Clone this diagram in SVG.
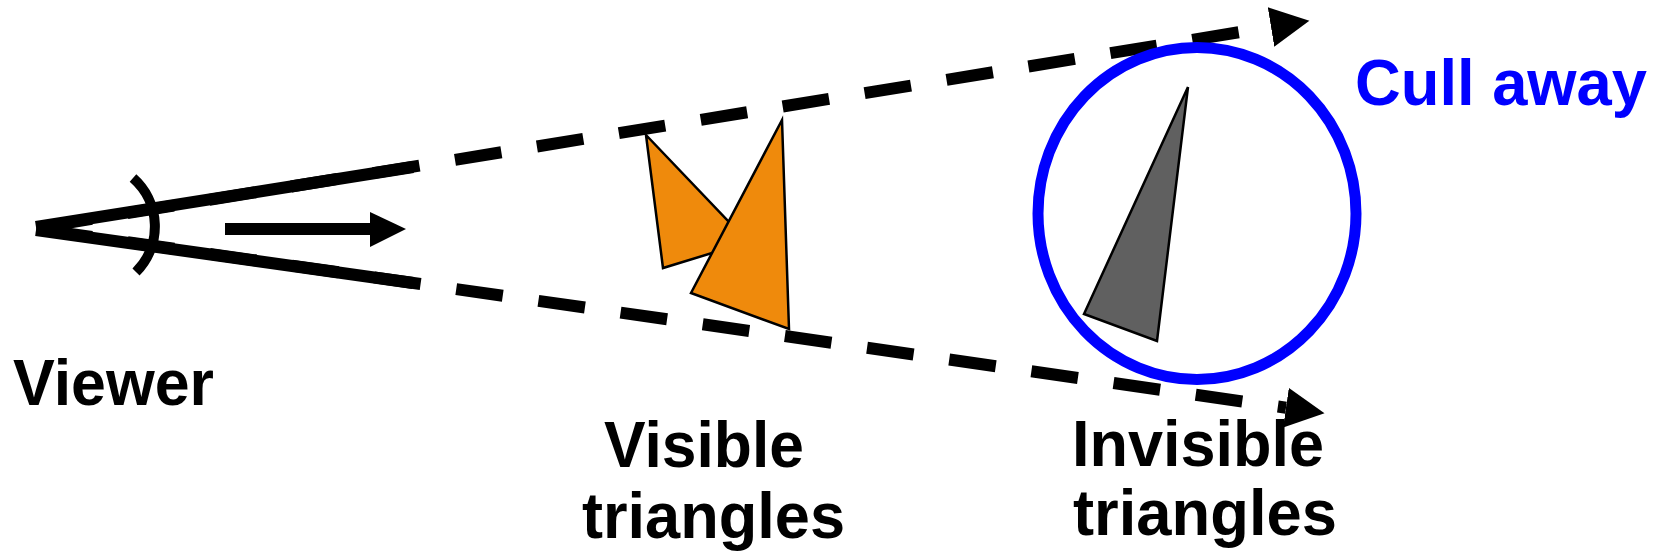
<svg xmlns="http://www.w3.org/2000/svg" width="1662" height="555" viewBox="0 0 1662 555">
  <style>
    .ray { fill: none; stroke: #000; stroke-width: 12; }
    .dash { stroke-dasharray: 47 36; stroke-dashoffset: -9.5; }
    .lbl { font-family: "Liberation Sans", Arial, sans-serif; font-weight: bold; font-size: 64px; fill: #000; }
    .tri { stroke: #000; stroke-width: 2.5; stroke-linejoin: miter; }
    .vis { fill: #ef8a0c; }
    .inv { fill: #606060; }
  </style>
  <defs>
    <marker id="head" markerUnits="userSpaceOnUse" markerWidth="40" markerHeight="40" refX="0" refY="18" orient="auto" viewBox="0 0 36 36">
      <path d="M0,0 L35,18 L0,36 Z" fill="#000"/>
    </marker>
  </defs>
  <rect width="1662" height="555" fill="#fff"/>

  <g id="connectors">
    <line class="ray" x1="36" y1="227" x2="413" y2="167"/>
    <line class="ray" x1="36" y1="230" x2="413" y2="283"/>
    <line class="ray dash" x1="36" y1="228" x2="1271" y2="27" marker-end="url(#head)"/>
    <line class="ray dash" x1="36" y1="229" x2="1286" y2="407.7" marker-end="url(#head)"/>
  </g>

  <g id="viewer">
    <path d="M133,178 A64.5,64.5 0 0 1 136,272" fill="none" stroke="#000" stroke-width="10"/>
    <line x1="225" y1="229" x2="371" y2="229" stroke="#000" stroke-width="12"/>
    <polygon points="370,212 406,229 370,247" fill="#000"/>
    <text class="lbl" x="13" y="405" font-size="66" textLength="201" lengthAdjust="spacingAndGlyphs">Viewer</text>
  </g>

  <g id="visible-triangles">
    <polygon class="tri vis" points="646,135 663,268 748,242"/>
    <polygon class="tri vis" points="782,120 691,293 789,329"/>
    <text class="lbl" x="604" y="467" font-size="66" textLength="200" lengthAdjust="spacingAndGlyphs">Visible</text>
    <text class="lbl" x="582" y="538" font-size="66" textLength="263" lengthAdjust="spacingAndGlyphs">triangles</text>
  </g>

  <g id="cull">
    <ellipse cx="1197" cy="213.5" rx="159" ry="166" fill="none" stroke="#0000ff" stroke-width="11"/>
    <polygon class="tri inv" points="1188,87 1084,314 1157,341"/>
    <text class="lbl" x="1355" y="105" font-size="64" style="fill:#0000ff" textLength="292" lengthAdjust="spacingAndGlyphs">Cull away</text>
  </g>

  <g id="invisible-triangles">
    <text class="lbl" x="1072" y="466" textLength="252" lengthAdjust="spacingAndGlyphs">Invisible</text>
    <text class="lbl" x="1073" y="535" textLength="264" lengthAdjust="spacingAndGlyphs">triangles</text>
  </g>
</svg>
